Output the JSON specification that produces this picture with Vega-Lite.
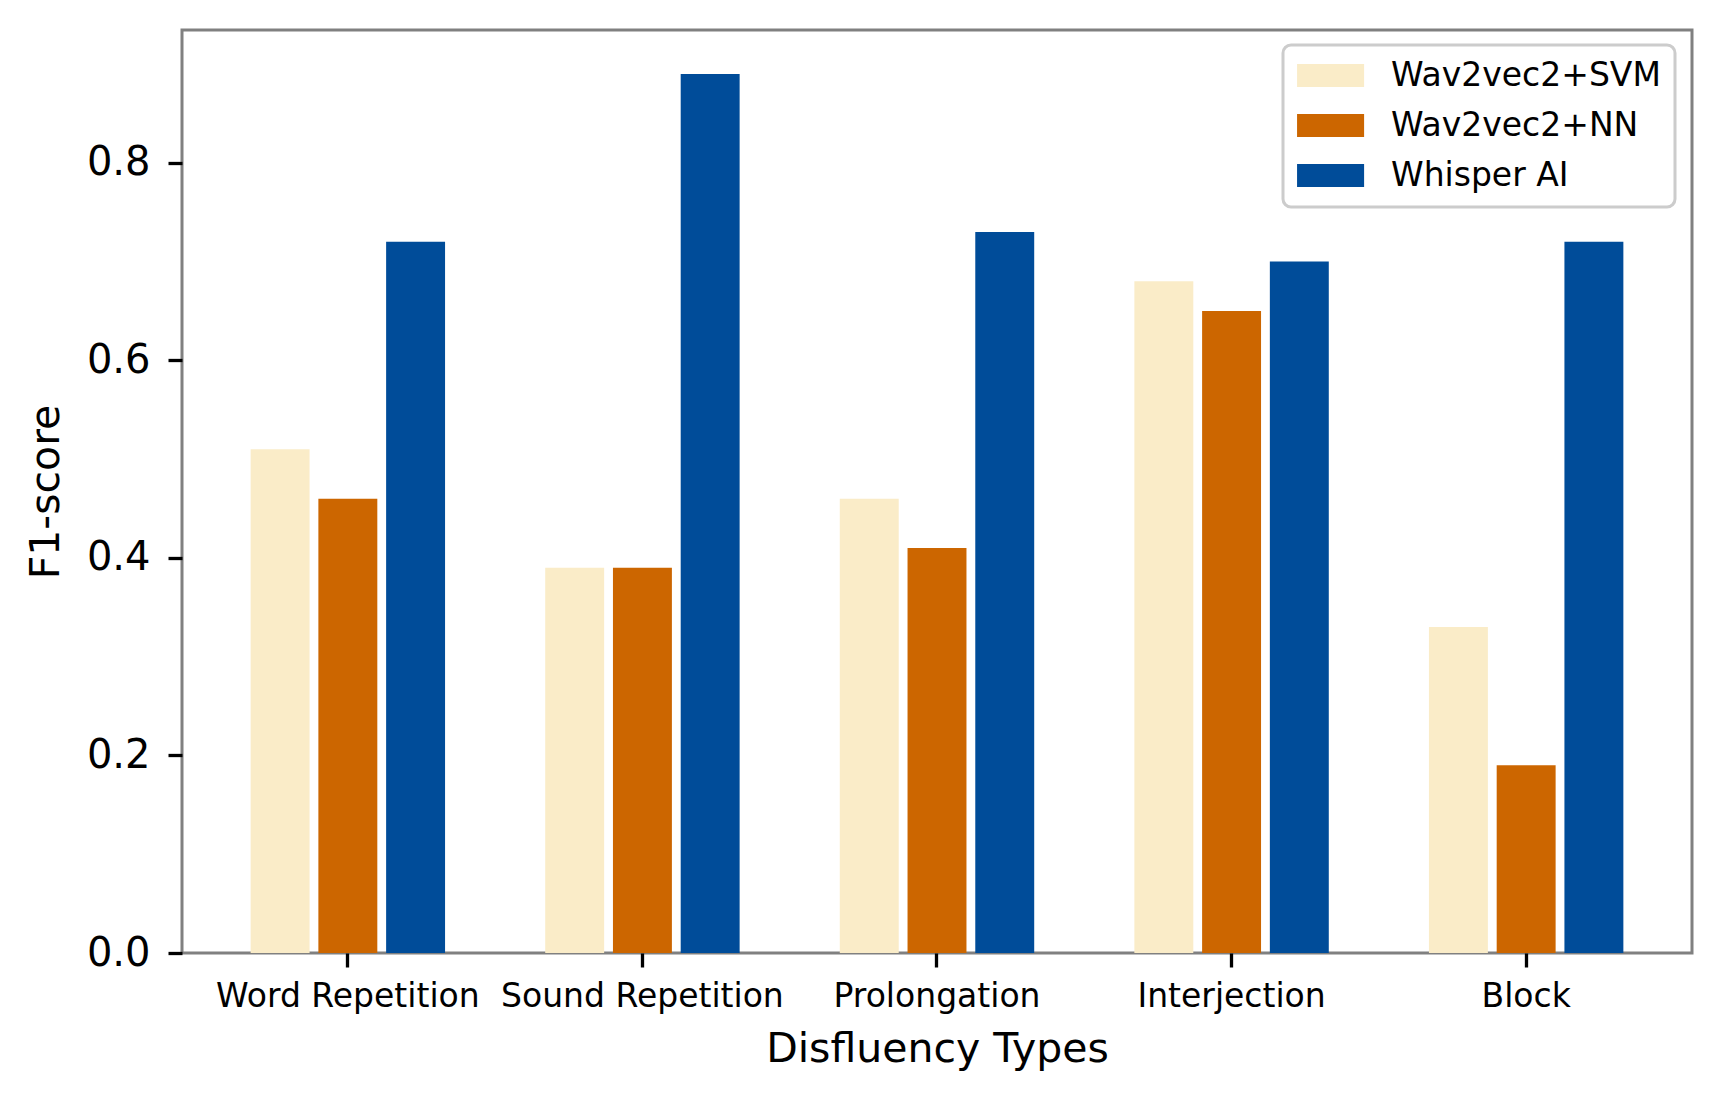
{
  "$schema": "https://vega.github.io/schema/vega-lite/v6.json",
  "width": 1510,
  "height": 923,
  "autosize": {"type": "none"},
  "padding": {"left": 182, "top": 30, "right": 32, "bottom": 149},
  "background": "white",
  "config": {
    "font": "DejaVu Sans",
    "view": {"stroke": "#808080", "strokeWidth": 3},
    "axis": {"grid": false, "domain": false, "labelColor": "black", "titleColor": "black", "tickColor": "black", "titleFontWeight": "normal"}
  },
  "data": {
    "values": [
      {"type": "Word Repetition", "model": "Wav2vec2+SVM", "f1": 0.51},
      {"type": "Word Repetition", "model": "Wav2vec2+NN", "f1": 0.46},
      {"type": "Word Repetition", "model": "Whisper AI", "f1": 0.72},
      {"type": "Sound Repetition", "model": "Wav2vec2+SVM", "f1": 0.39},
      {"type": "Sound Repetition", "model": "Wav2vec2+NN", "f1": 0.39},
      {"type": "Sound Repetition", "model": "Whisper AI", "f1": 0.89},
      {"type": "Prolongation", "model": "Wav2vec2+SVM", "f1": 0.46},
      {"type": "Prolongation", "model": "Wav2vec2+NN", "f1": 0.41},
      {"type": "Prolongation", "model": "Whisper AI", "f1": 0.73},
      {"type": "Interjection", "model": "Wav2vec2+SVM", "f1": 0.68},
      {"type": "Interjection", "model": "Wav2vec2+NN", "f1": 0.65},
      {"type": "Interjection", "model": "Whisper AI", "f1": 0.70},
      {"type": "Block", "model": "Wav2vec2+SVM", "f1": 0.33},
      {"type": "Block", "model": "Wav2vec2+NN", "f1": 0.19},
      {"type": "Block", "model": "Whisper AI", "f1": 0.72}
    ]
  },
  "mark": {"type": "bar"},
  "encoding": {
    "x": {
      "field": "type",
      "type": "nominal",
      "sort": ["Word Repetition", "Sound Repetition", "Prolongation", "Interjection", "Block"],
      "scale": {"paddingInner": 0.34, "paddingOuter": 0.233},
      "axis": {
        "title": "Disfluency Types",
        "titleFontSize": 41,
        "titlePadding": 16,
        "labelFontSize": 33,
        "labelAngle": 0,
        "labelPadding": 13,
        "labelLimit": 400,
        "tickSize": 14,
        "tickWidth": 3.3
      }
    },
    "xOffset": {
      "field": "model",
      "type": "nominal",
      "scale": {"domain": ["Wav2vec2+SVM", "Wav2vec2+NN", "Whisper AI"], "paddingInner": 0.13, "paddingOuter": 0}
    },
    "y": {
      "field": "f1",
      "type": "quantitative",
      "scale": {"domain": [0, 0.9345], "nice": false, "zero": true},
      "axis": {
        "title": "F1-score",
        "titleFontSize": 41,
        "titlePadding": 19,
        "values": [0, 0.2, 0.4, 0.6, 0.8],
        "format": ".1f",
        "labelFontSize": 40,
        "labelPadding": 18,
        "tickSize": 14,
        "tickWidth": 3.3
      }
    },
    "color": {
      "field": "model",
      "type": "nominal",
      "scale": {
        "domain": ["Wav2vec2+SVM", "Wav2vec2+NN", "Whisper AI"],
        "range": ["#FAECC8", "#CC6600", "#004C99"]
      },
      "legend": {
        "title": null,
        "orient": "none",
        "legendX": 1101,
        "legendY": 15,
        "symbolType": "M-1.43,-1H4.4V1H-1.43Z",
        "symbolSize": 529,
        "symbolStrokeWidth": 0,
        "symbolOpacity": 1,
        "labelFontSize": 33,
        "labelColor": "black",
        "labelOffset": 61,
        "labelLimit": 400,
        "rowPadding": 16,
        "padding": 14,
        "fillColor": "white",
        "strokeColor": "#cccccc",
        "cornerRadius": 8,
        "encode": {"legend": {"update": {"strokeWidth": {"value": 3}}}}
      }
    }
  }
}
